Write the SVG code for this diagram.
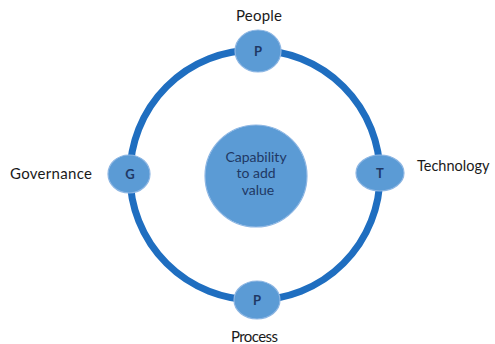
<svg xmlns="http://www.w3.org/2000/svg" width="495" height="344" viewBox="0 0 495 344">
<style>
.node{fill:#5B9BD5;stroke:#8DB6E3;stroke-width:1.2}
.ring{fill:none;stroke:#1F6EC0;stroke-width:7}
.in{font-family:Lato,"Open Sans",sans-serif;font-size:14px;fill:#1F3864;text-anchor:middle}
.lt{font-family:Lato,"Open Sans",sans-serif;font-size:13px;font-weight:bold;fill:#1F3864;text-anchor:middle}
.lab{font-family:Lato,"Open Sans",sans-serif;font-size:15px;fill:#1a1a1a;}
</style>
<rect width="495" height="344" fill="#fff"/>
<g id="connectors">
<ellipse class="ring" cx="255" cy="175" rx="125" ry="125"/>
</g>
<g id="center">
<circle class="node" cx="256" cy="176" r="51"/>
<text class="in" x="256" y="162">Capability</text>
<text class="in" x="256" y="178">to add</text>
<text class="in" x="258" y="195">value</text>
</g>
<g id="people">
<ellipse class="node" cx="258" cy="51" rx="23" ry="21"/>
<text class="lt" x="258" y="56">P</text>
<text class="lab" x="236" y="21" textLength="46">People</text>
</g>
<g id="process">
<ellipse class="node" cx="257" cy="300" rx="23" ry="19"/>
<text class="lt" x="257" y="305">P</text>
<text class="lab" x="231" y="342" textLength="47">Process</text>
</g>
<g id="governance">
<ellipse class="node" cx="129" cy="174" rx="21" ry="19"/>
<text class="lt" x="130" y="179">G</text>
<text class="lab" x="10" y="179" textLength="82">Governance</text>
</g>
<g id="technology">
<ellipse class="node" cx="380" cy="173" rx="24" ry="18"/>
<text class="lt" x="380" y="178">T</text>
<text class="lab" x="417" y="171" style="font-size:14.5px">Technology</text>
</g>
</svg>
